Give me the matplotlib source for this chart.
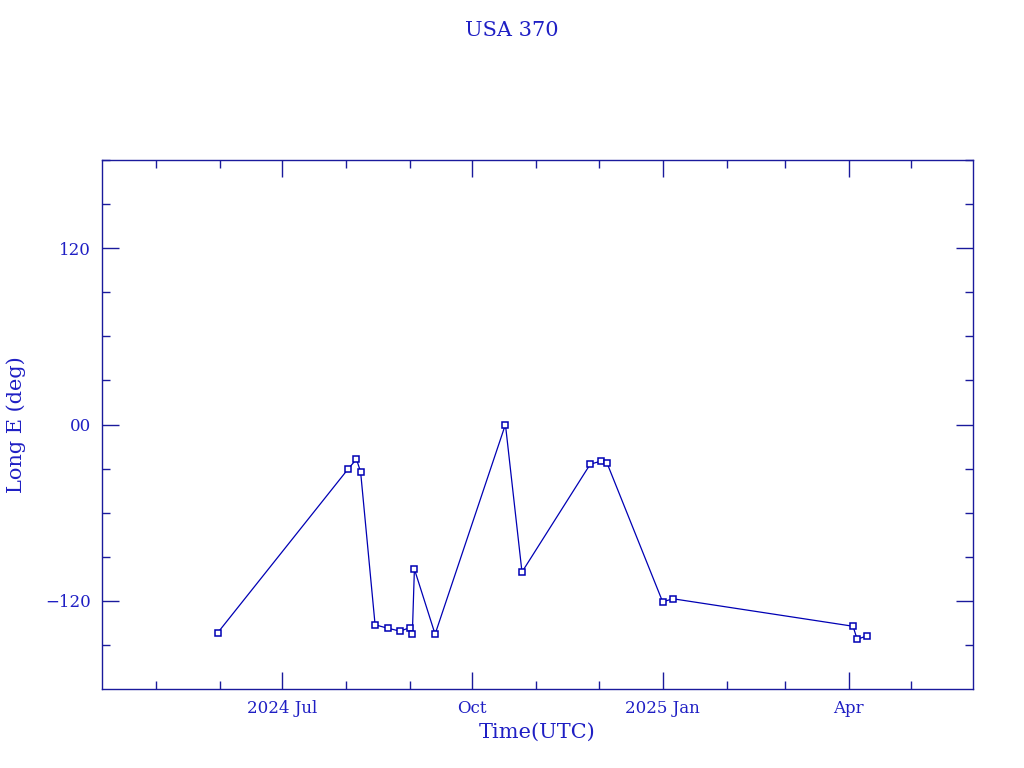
import numpy as np
import pandas as pd
import matplotlib
matplotlib.use("Agg")
import matplotlib.pyplot as plt
import matplotlib.dates as mdates
from matplotlib.ticker import FixedLocator, FuncFormatter

# Data (date, east longitude in degrees)
dates = pd.to_datetime([
    "2024-05-31", "2024-08-02", "2024-08-06", "2024-08-08", "2024-08-15",
    "2024-08-21", "2024-08-27", "2024-09-01", "2024-09-02", "2024-09-03",
    "2024-09-13", "2024-10-17", "2024-10-25", "2024-11-27", "2024-12-02",
    "2024-12-05", "2025-01-01", "2025-01-06", "2025-04-03", "2025-04-05",
    "2025-04-10",
])
longitude = [
    -141.6, -30.2, -23.6, -32.3, -136.3,
    -138.6, -140.6, -138.2, -142.7, -98.4,
    -142.7, 0.0, -100.4, -27.0, -25.0,
    -25.9, -120.7, -118.6, -137.3, -146.1,
    -143.8,
]

ytick_values = [-120, 0, 120]
ytick_labels = {-120: "\u2212120", 0: "00", 120: "120"}

line_col = "#0000b4"
axis_col = "#1a1a9c"
text_col = "#1f1fc4"

plt.rcParams['font.family'] = ['DejaVu Serif']

fig = plt.figure(figsize=(10.24, 7.68), dpi=100)
ax = fig.add_axes([102 / 1024, 1 - 689 / 768, 871 / 1024, 529 / 768])

ax.plot(dates, longitude, color=line_col, lw=0.9, marker='s', ms=4,
        mfc='white', mec=line_col, mew=1.1)

ax.set_xlim(pd.Timestamp("2024-04-05"), pd.Timestamp("2025-05-31"))
ax.set_ylim(-180, 180)

ax.xaxis.set_major_locator(mdates.MonthLocator(bymonth=[1, 4, 7, 10]))
ax.xaxis.set_minor_locator(mdates.MonthLocator())


def fmt_date(x, pos):
    d = mdates.num2date(x)
    if d.month == 1 or pos == 0:
        return d.strftime("%Y %b")
    return d.strftime("%b")


ax.xaxis.set_major_formatter(FuncFormatter(fmt_date))
ax.yaxis.set_major_locator(FixedLocator(ytick_values))
ax.yaxis.set_minor_locator(FixedLocator(np.arange(-150, 181, 30)))
ax.yaxis.set_major_formatter(FuncFormatter(lambda v, p: ytick_labels.get(int(round(v)), "")))

ax.tick_params(which='both', direction='in', top=True, right=True,
               color=axis_col, labelcolor=text_col, labelsize=12, pad=8)
ax.tick_params(which='major', length=12, width=1)
ax.tick_params(which='minor', length=6, width=1)

for s in ax.spines.values():
    s.set_color(axis_col)
    s.set_linewidth(1)

ax.set_xlabel("Time(UTC)", color=text_col, fontsize=15, labelpad=4)
ax.set_ylabel("Long E (deg)", color=text_col, fontsize=15, labelpad=14)
fig.text(0.5, 1 - 30 / 768, "USA 370", ha='center', va='center',
         color=text_col, fontsize=15)

fig.savefig("out.png", dpi=100)
